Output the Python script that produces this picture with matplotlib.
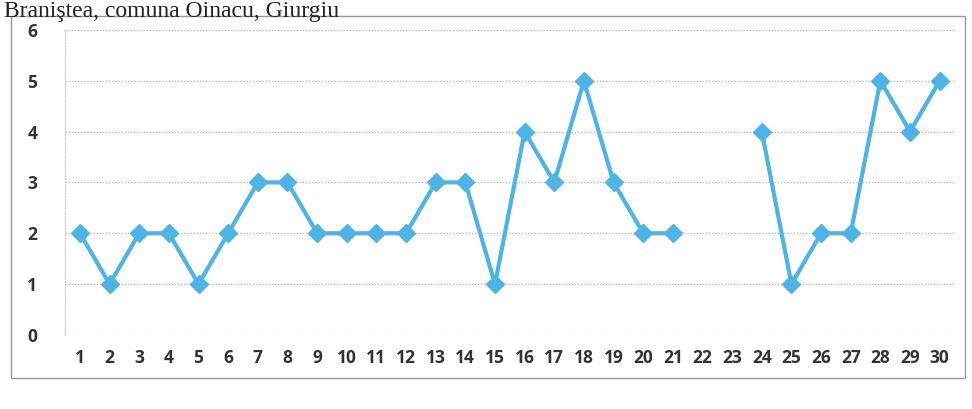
import numpy as np
import matplotlib.pyplot as plt
from matplotlib.patches import Rectangle

# Data (days 22-23 missing)
days = list(range(1, 31))
values = [2, 1, 2, 2, 1, 2, 3, 3, 2, 2,
          2, 2, 3, 3, 1, 4, 3, 5, 3, 2,
          2, np.nan, np.nan, 4, 1, 2, 2, 5, 4, 5]
y_ticks = [0, 1, 2, 3, 4, 5, 6]
title = "Braniştea, comuna Oinacu, Giurgiu"

LINE_COLOR = "#4fb3e3"

fig = plt.figure(figsize=(9.72, 4.09), dpi=100)
ax = fig.add_axes([0.067, 0.181, 0.915, 0.746])

ax.plot(days, values, color=LINE_COLOR, lw=3, marker="D", ms=9,
        mec=LINE_COLOR, mfc=LINE_COLOR)

ax.set_xlim(0.5, 30.5)
ax.set_ylim(0, 6)
ax.set_xticks(days)
ax.set_xticklabels([str(d) for d in days])
ax.set_yticks(y_ticks)

for s in ["top", "right", "bottom"]:
    ax.spines[s].set_visible(False)
ax.spines["left"].set_color("#c8c8c8")
ax.spines["left"].set_linestyle(":")
ax.yaxis.grid(True, color="#b0b0b0", linestyle=(0, (1, 1.5)), lw=0.9)
ax.set_axisbelow(True)
ax.tick_params(axis="both", length=0, labelsize=12.5, labelcolor="#333333")
ax.tick_params(axis="x", pad=10)
ax.tick_params(axis="y", pad=20)
for lab in ax.get_xticklabels() + ax.get_yticklabels():
    lab.set_fontweight("bold")
    lab.set_family("Open Sans")

# chart frame
fig.patches.append(Rectangle((0.011, 0.075), 0.982, 0.885, transform=fig.transFigure,
                             fill=False, ec="#9a9a9a", lw=1))

# title (top edge of the scan)
fig.text(0.004, 0.997, title, family="Liberation Serif", fontsize=17,
         color="#222222", va="top", ha="left")

fig.savefig("out.png", dpi=100)
